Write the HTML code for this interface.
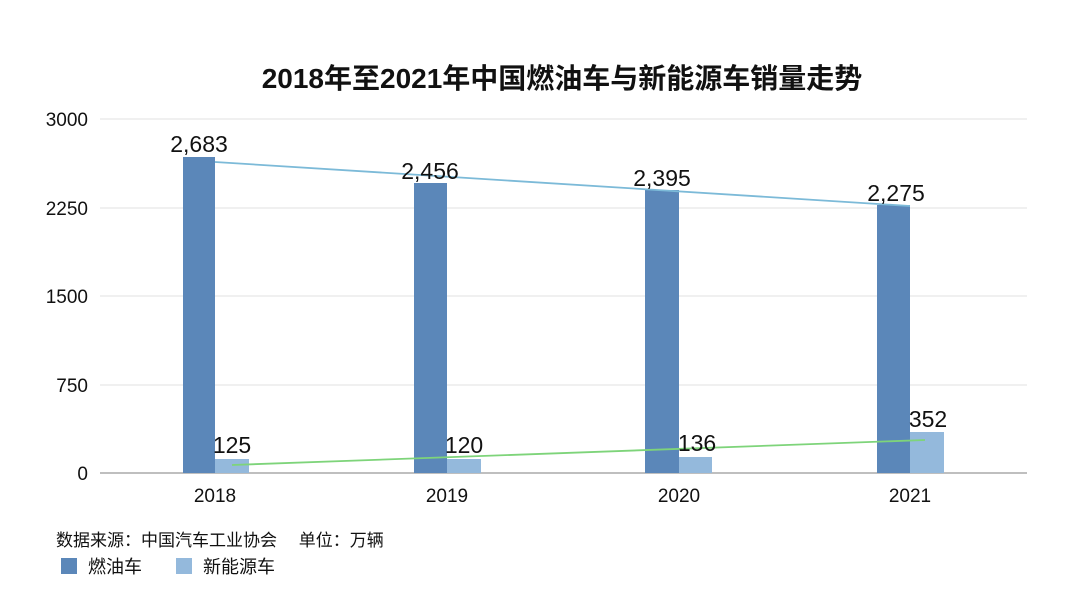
<!DOCTYPE html>
<html><head><meta charset="utf-8"><style>
body{margin:0;background:#fff}
svg text{font-family:"Liberation Sans","Noto Sans CJK SC",sans-serif;fill:#111}
</style></head><body>
<svg width="1080" height="607" viewBox="0 0 1080 607" xmlns="http://www.w3.org/2000/svg">
<rect width="1080" height="607" fill="#fff"/>
<text x="562" y="88" font-size="28" text-anchor="middle" font-weight="bold">2018年至2021年中国燃油车与新能源车销量走势</text>
<g stroke="#e2e2e2" stroke-width="1">
<line x1="100" y1="119" x2="1027" y2="119"/>
<line x1="100" y1="208" x2="1027" y2="208"/>
<line x1="100" y1="296" x2="1027" y2="296"/>
<line x1="100" y1="385" x2="1027" y2="385"/>
</g>
<line x1="100" y1="473" x2="1027" y2="473" stroke="#999" stroke-width="1.2"/>
<g font-size="19" text-anchor="end">
<text x="88" y="126">3000</text>
<text x="88" y="215">2250</text>
<text x="88" y="303">1500</text>
<text x="88" y="392">750</text>
<text x="88" y="480">0</text>
</g>
<g fill="#5b87b9">
<rect x="183" y="157" width="32" height="316"/>
<rect x="414" y="183" width="33" height="290"/>
<rect x="645" y="190" width="34" height="283"/>
<rect x="877" y="205" width="33" height="268"/>
</g>
<g fill="#94b9dc">
<rect x="215" y="459" width="34" height="14"/>
<rect x="447" y="459" width="34" height="14"/>
<rect x="679" y="457" width="33" height="16"/>
<rect x="910" y="432" width="34" height="41"/>
</g>
<line x1="215" y1="162" x2="910" y2="206" stroke="#7cbad8" stroke-width="1.8"/>
<line x1="232" y1="465" x2="925" y2="440" stroke="#7ed47a" stroke-width="1.8"/>
<g font-size="23" text-anchor="middle">
<text x="199" y="152">2,683</text>
<text x="430" y="179">2,456</text>
<text x="662" y="186">2,395</text>
<text x="896" y="201">2,275</text>
<text x="232" y="453">125</text>
<text x="464" y="453">120</text>
<text x="697" y="451">136</text>
<text x="928" y="427">352</text>
</g>
<g font-size="19" text-anchor="middle">
<text x="215" y="502">2018</text>
<text x="447" y="502">2019</text>
<text x="679" y="502">2020</text>
<text x="910" y="502">2021</text>
</g>
<text x="56" y="546" font-size="17">数据来源：中国汽车工业协会　 单位：万辆</text>
<rect x="61" y="558" width="16" height="16" fill="#5b87b9"/>
<text x="88" y="573" font-size="18">燃油车</text>
<rect x="176" y="558" width="16" height="16" fill="#94b9dc"/>
<text x="203" y="573" font-size="18">新能源车</text>
</svg>
</body></html>
